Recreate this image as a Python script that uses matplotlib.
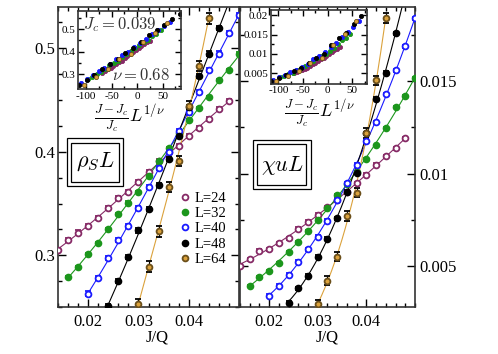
import numpy as np
import matplotlib.pyplot as plt
from matplotlib.lines import Line2D
from matplotlib.patches import Rectangle
from matplotlib.ticker import MultipleLocator, FormatStrFormatter

plt.rcParams['font.family'] = ['Liberation Serif', 'DejaVu Serif']
plt.rcParams['mathtext.fontset'] = 'cm'

Jc = 0.039
nu = 0.68

# J/Q values per system size
J24 = [0.014, 0.016, 0.018, 0.020, 0.022, 0.024, 0.026, 0.028, 0.030, 0.032, 0.034, 0.036, 0.038, 0.040, 0.042, 0.044, 0.046, 0.048]
J32 = [0.016, 0.018, 0.020, 0.022, 0.024, 0.026, 0.028, 0.030, 0.032, 0.034, 0.036, 0.038, 0.040, 0.042, 0.044, 0.046, 0.048, 0.050]
J40 = [0.020, 0.022, 0.024, 0.026, 0.028, 0.030, 0.032, 0.034, 0.036, 0.038, 0.040, 0.042, 0.044, 0.046, 0.048, 0.050]
J48 = [0.024, 0.026, 0.028, 0.030, 0.032, 0.034, 0.036, 0.038, 0.040, 0.042, 0.044, 0.046, 0.048, 0.050]
J64 = [0.030, 0.032, 0.034, 0.036, 0.038, 0.040, 0.042, 0.044]

# rho_s L
rho24 = [0.305, 0.315, 0.322, 0.328, 0.336, 0.346, 0.355, 0.361, 0.371, 0.380, 0.391, 0.400, 0.406, 0.415, 0.423, 0.432, 0.441, 0.449]
rho32 = [0.279, 0.289, 0.301, 0.312, 0.325, 0.340, 0.351, 0.361, 0.377, 0.391, 0.404, 0.418, 0.431, 0.442, 0.453, 0.469, 0.479, 0.495]
rho40 = [0.263, 0.278, 0.297, 0.315, 0.328, 0.346, 0.366, 0.384, 0.400, 0.420, 0.438, 0.458, 0.479, 0.495, 0.515, 0.532]
rho48 = [0.251, 0.275, 0.298, 0.324, 0.345, 0.368, 0.393, 0.415, 0.443, 0.473, 0.495, 0.520, 0.545, 0.568]
rho64 = [0.253, 0.289, 0.323, 0.366, 0.391, 0.444, 0.483, 0.529]

# chi_u L
chi24 = [0.00503, 0.00539, 0.00583, 0.00592, 0.00624, 0.00651, 0.00702, 0.00741, 0.00777, 0.00819, 0.00858, 0.00902, 0.00949, 0.00994, 0.01048, 0.01095, 0.01138, 0.01190]
chi32 = [0.00395, 0.00441, 0.00476, 0.00520, 0.00579, 0.00633, 0.00691, 0.00750, 0.00813, 0.00885, 0.00945, 0.01010, 0.01078, 0.01152, 0.01246, 0.01360, 0.01421, 0.01516]
chi40 = [0.00341, 0.00395, 0.00453, 0.00525, 0.00592, 0.00660, 0.00746, 0.00858, 0.00949, 0.01048, 0.01174, 0.01278, 0.01430, 0.01557, 0.01687, 0.01840]
chi48 = [0.00303, 0.00381, 0.00449, 0.00552, 0.00648, 0.00759, 0.00903, 0.01006, 0.01219, 0.01404, 0.01545, 0.01759, 0.01970]
chi64 = [0.00295, 0.00422, 0.00552, 0.00772, 0.00898, 0.01220, 0.01503, 0.01841]

# error bars (rho, chi)
err_rho = [0.002, 0.001, 0.002, 0.002, 0.005]
err_chi = [0.00008, 0.00005, 0.00008, 0.00008, 0.00025]

sizes = [24, 32, 40, 48, 64]
labels = ['L=24', 'L=32', 'L=40', 'L=48', 'L=64']
colors = ['#862a66', '#1c961c', '#1a1aff', 'black', '#dba23c']
faces = ['white', '#1c961c', 'white', 'black', '#dba23c']
edges = ['#862a66', '#1c961c', '#1a1aff', 'black', '#6b4f1a']

Js = [J24, J32, J40, J48, J64]
rhos = [rho24, rho32, rho40, rho48, rho64]
chis = [chi24, chi32, chi40, chi48, chi64]

fig = plt.figure(figsize=(4.98, 3.54), dpi=100)
ax1 = fig.add_axes([0.1165, 0.1328, 0.3635, 0.8475])
ax2 = fig.add_axes([0.4819, 0.1328, 0.3514, 0.8475])


def style(ax, size, major=6, minor=3):
    ax.tick_params(which='both', direction='in', top=True, right=True, labelsize=size)
    ax.tick_params(which='major', length=major, width=1)
    ax.tick_params(which='minor', length=minor, width=1)
    for s in ax.spines.values():
        s.set_linewidth(1.2)
        s.set_color('#333333')


def draw(ax, ys, errs):
    for i in range(5):
        x = np.array(Js[i][:len(ys[i])])
        y = np.array(ys[i])
        c = np.polyfit(x, y, 3)
        xx = np.linspace(x[0], x[-1], 200)
        ax.plot(xx, np.polyval(c, xx), color=colors[i], lw=0.8, zorder=2)
        ecol = 'black' if i == 4 else colors[i]
        ax.errorbar(x, y, yerr=errs[i], fmt='o', ms=4.2, mfc=faces[i], mec=edges[i],
                    mew=1.3, ecolor=ecol, elinewidth=0.8, capsize=2.2, zorder=3)


draw(ax1, rhos, err_rho)
draw(ax2, chis, err_chi)

ax1.set_xlim(0.014, 0.05)
ax1.set_ylim(0.25, 0.54)
ax2.set_xlim(0.014, 0.05)
ax2.set_ylim(0.0028, 0.0190)

for ax in (ax1, ax2):
    style(ax, 12)
    ax.set_xticks([0.02, 0.03, 0.04])
    ax.xaxis.set_minor_locator(MultipleLocator(0.002))
    ax.xaxis.set_major_formatter(FormatStrFormatter('%g'))
    ax.yaxis.set_major_formatter(FormatStrFormatter('%g'))
    ax.tick_params(axis='x', pad=5)

ax1.yaxis.set_major_locator(MultipleLocator(0.1))
ax1.yaxis.set_minor_locator(MultipleLocator(0.025))
ax1.tick_params(axis='y', pad=2)
ax2.yaxis.set_major_locator(MultipleLocator(0.005))
ax2.yaxis.set_minor_locator(MultipleLocator(0.0025))
ax2.tick_params(axis='y', labelleft=False, labelright=True, pad=3)

ax1.set_xlabel('J/Q', fontsize=12)
ax2.set_xlabel('J/Q', fontsize=12)
ax1.xaxis.set_label_coords(0.547, -0.075)
ax2.xaxis.set_label_coords(0.5, -0.075)

# legend
handles = [Line2D([], [], ls='none', marker='o', ms=4.2, mfc=faces[i], mec=edges[i], mew=1.3)
           for i in range(5)]
ax1.legend(handles, labels, loc='upper left', bbox_to_anchor=(0.675, 0.385), frameon=False,
           fontsize=10.5, handlelength=0.6, handletextpad=0.4, labelspacing=0.15, borderpad=0,
           borderaxespad=0)

# boxed labels
for ax, txt, outer, inner, pos in [
        (ax1, r'$\rho_S L$', (0.048, 0.403, 0.313, 0.159), (0.072, 0.418, 0.265, 0.130), (0.204, 0.483)),
        (ax2, r'$\chi u L$', (0.074, 0.392, 0.330, 0.164), (0.099, 0.407, 0.280, 0.136), (0.24, 0.473))]:
    for r in (outer, inner):
        ax.add_patch(Rectangle(r[:2], r[2], r[3], transform=ax.transAxes, fill=False,
                               lw=0.9, ec='black', zorder=5))
    ax.text(pos[0], pos[1], txt, transform=ax.transAxes, ha='center', va='center', fontsize=16)

# insets: data collapse
in1 = fig.add_axes([0.1566, 0.7486, 0.2068, 0.2203])
in2 = fig.add_axes([0.5442, 0.7641, 0.1928, 0.2076])
for ax, ys in ((in1, rhos), (in2, chis)):
    for i in range(5):
        x = np.array(Js[i][:len(ys[i])])
        xs = (x - Jc) / Jc * sizes[i] ** (1 / nu)
        ax.plot(xs, ys[i], 'o', ms=3.0, color=colors[i], mec=edges[i] if i == 4 else colors[i], mew=0.6)
    style(ax, 8, major=4, minor=2)
    ax.xaxis.set_major_locator(MultipleLocator(50))
    ax.xaxis.set_minor_locator(MultipleLocator(25))
    ax.xaxis.set_major_formatter(FormatStrFormatter('%g'))
    ax.yaxis.set_major_formatter(FormatStrFormatter('%g'))
    ax.tick_params(pad=2)
    ax.set_xlabel(r'$\frac{J-J_c}{J_c}L^{1/\nu}$', fontsize=13, labelpad=1)

in1.set_xlim(-116, 86)
in1.set_ylim(0.235, 0.58)
in1.yaxis.set_major_locator(MultipleLocator(0.1))
in1.yaxis.set_minor_locator(MultipleLocator(0.05))
in1.text(0.05, 0.82, r'$J_c = 0.039$', transform=in1.transAxes, fontsize=12, va='center', color='#333333')
in1.text(0.89, 0.17, r'$\nu = 0.68$', transform=in1.transAxes, fontsize=12, va='center', ha='right', color='#333333')

in2.set_xlim(-115, 80)
in2.set_ylim(0.0024, 0.0213)
in2.yaxis.set_major_locator(MultipleLocator(0.005))
in2.yaxis.set_minor_locator(MultipleLocator(0.0025))

fig.savefig('out.png', dpi=100)
